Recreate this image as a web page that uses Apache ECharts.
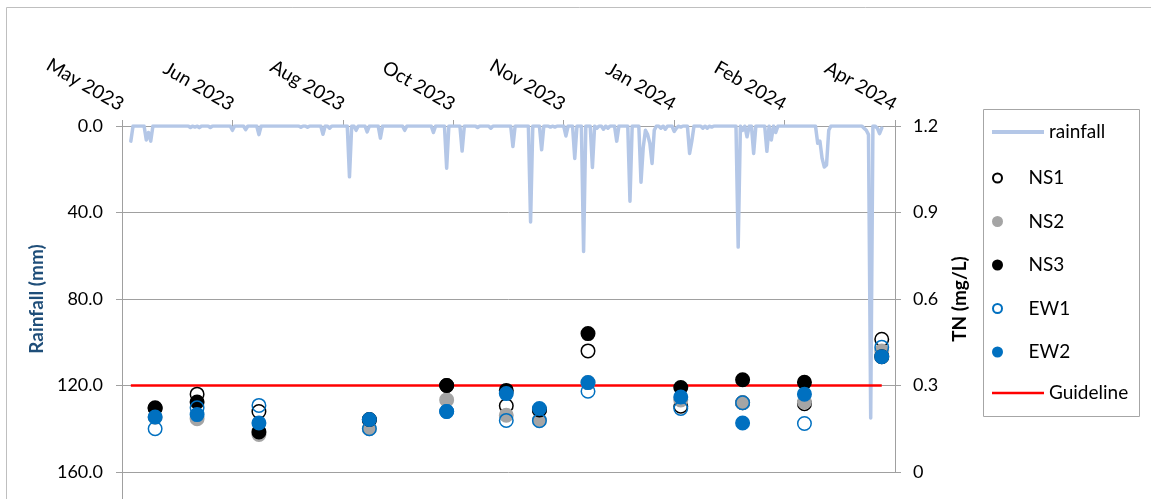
<!DOCTYPE html>
<html>
<head>
<meta charset="utf-8">
<script src="https://cdn.jsdelivr.net/npm/echarts@6/dist/echarts.min.js"></script>
<style>
  html, body { margin: 0; padding: 0; background: #fff; }
  #chart { width: 1151px; height: 499px; }
</style>
</head>
<body>
<div id="chart"></div>
<script>
// ---- Sampling dates and total nitrogen (mg/L) per site ----
const sampleDates = ['2023-05-19', '2023-06-07', '2023-07-05', '2023-08-24', '2023-09-28', '2023-10-25',
                     '2023-11-09', '2023-12-01', '2024-01-12', '2024-02-09', '2024-03-08', '2024-04-12'];
const tnNS1 = [0.22, 0.27, 0.21, 0.18, 0.30, 0.23, 0.215, 0.42, 0.228, 0.24, 0.237, 0.46];
const tnNS2 = [0.19, 0.185, 0.13, 0.15, 0.25, 0.197, 0.18, 0.31, 0.25, 0.24, 0.243, 0.42];
const tnNS3 = [0.223, 0.243, 0.139, 0.182, 0.30, 0.283, 0.215, 0.48, 0.293, 0.32, 0.311, 0.40];
const tnEW1 = [0.15, 0.223, 0.231, 0.15, 0.21, 0.179, 0.178, 0.28, 0.22, 0.24, 0.168, 0.433];
const tnEW2 = [0.191, 0.199, 0.17, 0.182, 0.21, 0.272, 0.22, 0.31, 0.26, 0.17, 0.27, 0.40];

// ---- Guideline value (mg/L) over the record period ----
const guidelineDates = ['2023-05-08', '2024-04-12'];
const guidelineTN = [0.3, 0.3];

// ---- Daily rainfall (mm), one row per month, starting 8 May 2023 ----
const rainStart = '2023-05-08';
const rainMay23 = [7, 0, 0, 0, 0, 0, 0, 6.5, 3, 7, 0, 0, 0, 0, 0, 0, 0, 0, 0, 0, 0, 0, 0, 0];
const rainJun23 = [0, 0, 0, 0.7, 0, 0.5, 0, 0.8, 0, 0, 0, 0, 0.7, 0, 0, 0, 0, 0, 0, 0, 0, 0, 2, 0, 0, 0, 0, 0, 1.7, 0];
const rainJul23 = [0, 0, 0, 0, 4, 0, 0, 0, 0, 0, 0, 0, 0, 0, 0, 0, 0, 0, 0, 0, 0, 0, 0, 0.6, 0, 0, 0.6, 0, 0, 0, 0];
const rainAug23 = [0, 0, 3.8, 0, 0, 1, 0, 0, 0, 0, 0, 0, 0, 0, 23.5, 0, 0, 2, 0, 0, 0, 0, 2.7, 0, 0, 0, 0, 0, 5.6, 0, 0];
const rainSep23 = [0, 0, 0, 0, 0, 0, 0, 0, 2, 0, 0, 0, 0, 0, 0, 0, 0, 0, 0, 0, 0, 3, 0, 0, 0, 0, 0, 19.5, 0, 0];
const rainOct23 = [0, 0, 0, 0, 11.6, 0, 0, 0, 0, 0, 0, 0.7, 0, 0, 0, 0, 0, 1, 0, 0, 0, 0, 0, 0, 0, 0, 0, 9.5, 0, 0, 0];
const rainNov23 = [0, 0, 0, 0, 44.4, 0, 0, 0, 0, 11, 0, 0, 0, 0.5, 0, 0.5, 0, 0, 0, 0, 4.6, 0, 0, 0, 15, 0, 0, 0, 58, 0];
const rainDec23 = [0, 0, 19.2, 0, 1, 0, 0, 1.5, 0, 1, 0, 0, 0, 7, 0, 0, 0, 0, 0, 34.8, 0, 0, 0, 0, 26, 10, 2, 4, 8, 17.3, 2];
const rainJan24 = [0, 0, 1, 0, 1.5, 0, 0, 0, 2.5, 1, 0, 0.5, 0, 0, 0, 12.7, 7, 0, 0, 0, 0, 1, 0, 1, 0, 0.5, 0, 0, 0, 0, 0];
const rainFeb24 = [0, 0, 0, 0, 0, 0, 56, 0, 2, 0, 5, 0, 0, 12.7, 0, 0, 0, 0, 0, 11.7, 0, 6.5, 0, 3, 0, 0, 0, 0, 0];
const rainMar24 = [0, 0, 0, 0, 0, 0, 0, 0, 0, 0, 0, 0, 0, 8, 7, 15, 19, 18, 2, 0, 0, 0, 0, 0, 0, 0, 0, 0, 0, 0, 0];
const rainApr24 = [0, 0, 0, 1, 2, 4, 135, 0, 0, 1, 3.5, 1];

// ---- Axis settings (date axis in spreadsheet serial days) ----
const dateAxisMin = 45050;
const dateAxisMax = 45400;
const dateAxisStep = 50;
const rainTicks = [0, 40, 80, 120, 160];
const tnTicks = [0, 0.3, 0.6, 0.9, 1.2];
const monthNames = ['Jan', 'Feb', 'Mar', 'Apr', 'May', 'Jun', 'Jul', 'Aug', 'Sep', 'Oct', 'Nov', 'Dec'];

// ISO date -> spreadsheet serial day number
const EPOCH = Date.UTC(1899, 11, 30);
function serial(iso) {
  const p = iso.split('-').map(Number);
  return (Date.UTC(p[0], p[1] - 1, p[2]) - EPOCH) / 86400000;
}
function monthLabel(v) {
  const d = new Date(EPOCH + Math.round(v) * 86400000);
  return monthNames[d.getUTCMonth()] + ' ' + d.getUTCFullYear();
}

const rainfall = [].concat(rainMay23, rainJun23, rainJul23, rainAug23, rainSep23, rainOct23,
                           rainNov23, rainDec23, rainJan24, rainFeb24, rainMar24, rainApr24);
const rainDay0 = serial(rainStart);
const rainData = rainfall.map((v, i) => [rainDay0 + i, v]);
const sampleX = sampleDates.map(serial);
const pairs = arr => arr.map((v, i) => [sampleX[i], v]);

const FONT = 'Lato, "Open Sans", sans-serif';
const GRID = '#A0A0A0';
const BLUE = '#0070C0';

const chart = echarts.init(document.getElementById('chart'), null, { renderer: 'canvas' });

function scatter(name, data, fill, border) {
  return {
    name, type: 'scatter', xAxisIndex: 0, yAxisIndex: 1,
    data: pairs(data), symbol: 'circle', symbolSize: 13.5,
    itemStyle: { color: fill, borderColor: border, borderWidth: 1.5, opacity: 1 },
    emphasis: { disabled: true }, z: 4
  };
}

const legendText = { fontFamily: FONT, fontSize: 19, color: '#000', lineHeight: 20 };

const option = {
  animation: false,
  backgroundColor: '#fff',
  grid: { left: 122, right: 256, top: 126, bottom: 27, containLabel: false, outerBoundsMode: 'none' },
  xAxis: {
    type: 'value', position: 'top',
    min: dateAxisMin, max: dateAxisMax, interval: dateAxisStep,
    axisLine: { show: true, lineStyle: { color: GRID, width: 1 } },
    axisTick: { show: true, inside: false, length: 6, lineStyle: { color: GRID } },
    splitLine: { show: false },
    axisLabel: {
      rotate: -30, margin: 20, fontFamily: FONT, fontSize: 19, color: '#000',
      formatter: monthLabel, showMinLabel: true, showMaxLabel: true, hideOverlap: false, interval: 0
    }
  },
  yAxis: [
    {
      type: 'value', position: 'left', inverse: true,
      min: rainTicks[0], max: rainTicks[rainTicks.length - 1], interval: rainTicks[1] - rainTicks[0],
      name: 'Rainfall (mm)', nameLocation: 'middle', nameRotate: 90, nameGap: 68,
      nameTextStyle: { fontFamily: FONT, fontSize: 19, fontWeight: 'bold', color: '#1F4E79' },
      axisLine: { show: true, lineStyle: { color: GRID } },
      axisTick: { show: true, inside: false, length: 6, lineStyle: { color: GRID } },
      splitLine: { show: true, lineStyle: { color: GRID, width: 1 } },
      axisLabel: { fontFamily: FONT, fontSize: 18, color: '#000', margin: 19, formatter: v => v.toFixed(1) }
    },
    {
      type: 'value', position: 'right',
      min: tnTicks[0], max: tnTicks[tnTicks.length - 1], interval: tnTicks[1] - tnTicks[0],
      name: 'TN (mg/L)', nameLocation: 'middle', nameRotate: 90, nameGap: 55,
      nameTextStyle: { fontFamily: FONT, fontSize: 19, fontWeight: 'bold', color: '#000' },
      axisLine: { show: true, lineStyle: { color: GRID } },
      axisTick: { show: true, inside: false, length: 6, lineStyle: { color: GRID } },
      splitLine: { show: false },
      axisLabel: { fontFamily: FONT, fontSize: 18, color: '#000', margin: 18, formatter: v => String(+v.toFixed(1)) }
    }
  ],
  legend: [
    { data: [{ name: 'rainfall', icon: 'rect' }], orient: 'vertical', left: 992, top: 122, padding: 0,
      itemWidth: 52, itemHeight: 4, textStyle: legendText, selectedMode: false },
    { data: ['NS1', 'NS2', 'NS3', 'EW1', 'EW2'].map(n => ({ name: n, icon: 'circle' })),
      orient: 'vertical', left: 992, top: 168, padding: 0,
      itemWidth: 52, itemHeight: 9, itemGap: 23.5, textStyle: legendText, selectedMode: false },
    { data: [{ name: 'Guideline', icon: 'rect' }], orient: 'vertical', left: 992, top: 383, padding: 0,
      itemWidth: 52, itemHeight: 2.5, textStyle: legendText, selectedMode: false }
  ],
  graphic: [
    // legend frame
    { type: 'rect', silent: true, z: 0, shape: { x: 983.5, y: 109.5, width: 156, height: 307 },
      style: { fill: 'none', stroke: '#A6A6A6', lineWidth: 1 } },
    // chart frame
    { type: 'rect', silent: true, z: 0, shape: { x: 6.5, y: 7.5, width: 1200, height: 600 },
      style: { fill: 'none', stroke: '#BFBFBF', lineWidth: 1 } },
    // rainfall axis line continues below the plot area
    { type: 'line', silent: true, z: 0, shape: { x1: 122.5, y1: 472, x2: 122.5, y2: 499 },
      style: { stroke: GRID, lineWidth: 1 } }
  ],
  series: [
    {
      name: 'rainfall', type: 'line', xAxisIndex: 0, yAxisIndex: 0,
      data: rainData, symbol: 'none', showSymbol: false,
      itemStyle: { color: '#B4C7E7' },
      lineStyle: { color: '#B4C7E7', width: 3.5, cap: 'round', join: 'round' },
      emphasis: { disabled: true }, z: 2
    },
    {
      name: 'Guideline', type: 'line', xAxisIndex: 0, yAxisIndex: 1,
      data: guidelineDates.map((d, i) => [serial(d), guidelineTN[i]]),
      symbol: 'none', showSymbol: false,
      itemStyle: { color: '#FF0000' },
      lineStyle: { color: '#FF0000', width: 2.5 },
      emphasis: { disabled: true }, z: 3
    },
    scatter('NS1', tnNS1, 'rgba(255,255,255,0)', '#000000'),
    scatter('NS2', tnNS2, '#A5A5A5', '#A5A5A5'),
    scatter('NS3', tnNS3, '#000000', '#000000'),
    scatter('EW1', tnEW1, 'rgba(255,255,255,0)', BLUE),
    scatter('EW2', tnEW2, BLUE, BLUE)
  ]
};

chart.setOption(option);
</script>
</body>
</html>
